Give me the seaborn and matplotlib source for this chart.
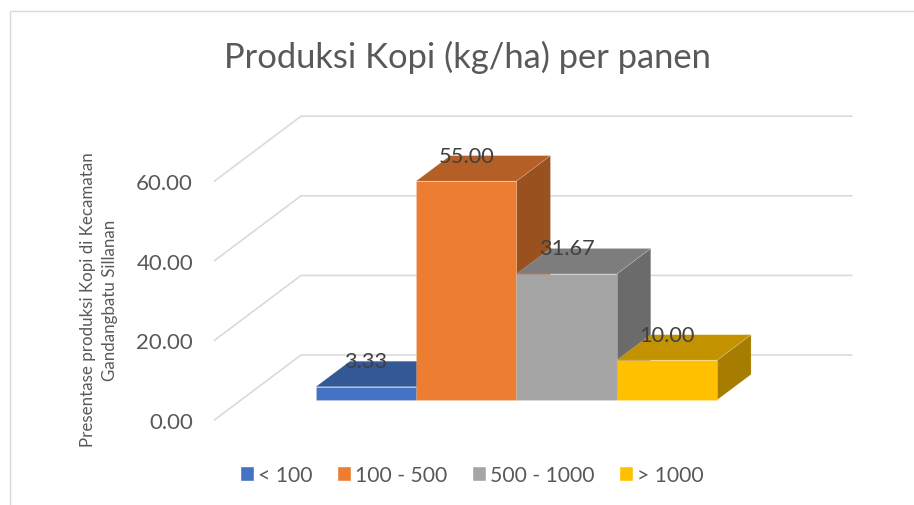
import numpy as np
import pandas as pd
import matplotlib
matplotlib.use("Agg")
import matplotlib.pyplot as plt
import seaborn as sns
from matplotlib.patches import Polygon, Rectangle

# Data
kelas = ["< 100", "100 - 500", "500 - 1000", "> 1000"]
nilai = [3.33, 55.00, 31.67, 10.00]
warna = ["#4472C4", "#ED7D31", "#A5A5A5", "#FFC000"]
y_ticks = [0, 20, 40, 60]

judul = "Produksi Kopi (kg/ha) per panen"
label_y = "Presentase produksi Kopi di Kecamatan\nGandangbatu Sillanan"

sns.set_theme(style="white")
plt.rcParams["font.family"] = ["Lato", "DejaVu Sans"]

W, H = 914, 506
fig = plt.figure(figsize=(W / 100, H / 100), dpi=100)

# axes box in pixels, front plane of the bars is a plain data plane
left, right, top, bottom = 200, 870, 100, 430
ax = fig.add_axes([left / W, 1 - bottom / H, (right - left) / W, (bottom - top) / H])

px_x = 100.3   # px per category
px_y = 3.98    # px per value unit
x0, y0 = 366, 401

# oblique depth: one bar depth in data units
dx = 34 / px_x
dy = 25.5 / px_y
d_front, d_back = -0.784, 1.765
wall_l, wall_r = -1.246, 4.247

df = pd.DataFrame({"kelas": kelas, "nilai": nilai})
sns.barplot(data=df, x="kelas", y="nilai", hue="kelas", palette=warna, width=1,
            dodge=False, legend=False, saturation=1, ax=ax, zorder=5)

ax.set_xlim((left - x0) / px_x, (right - x0) / px_x)
ax.set_ylim((y0 - bottom) / px_y, (y0 - top) / px_y)

# walls
for v in y_ticks:
    ax.plot([wall_l + dx * d_front, wall_l + dx * d_back, wall_r + dx * d_back],
            [v + dy * d_front, v + dy * d_back, v + dy * d_back],
            color="#D9D9D9", lw=1.15, zorder=1, solid_joinstyle="miter")


def gelap(c, f):
    return tuple(np.array(matplotlib.colors.to_rgb(c)) * f)


edge = (1, 1, 1, 0.18)
for i, (bar, v, c) in enumerate(zip(ax.patches, nilai, warna)):
    a, b = i - 0.5, i + 0.5
    z = 5 + i * 3
    side = [(b, 0), (b + dx, dy), (b + dx, v + dy), (b, v)]
    atas = [(a, v), (a + dx, v + dy), (b + dx, v + dy), (b, v)]
    ax.add_patch(Polygon(side, fc=gelap(c, 0.65), ec=edge, lw=0.6, zorder=z))
    ax.add_patch(Polygon(atas, fc=gelap(c, 0.76), ec=edge, lw=0.6, zorder=z + 1))
    bar.set_zorder(z + 2)
    bar.set_edgecolor(edge)
    bar.set_linewidth(0.6)
    ax.text(i, v + dy, f"{v:.2f}", ha="center", va="center", fontsize=15.7,
            color="#404040", zorder=30)

ax.set_xticks([])
ax.set_xlabel("")
ax.set_yticks([v + dy * d_front for v in y_ticks], [f"{v:.2f}" for v in y_ticks])
ax.tick_params(axis="y", length=0, pad=5, labelsize=16, labelcolor="#595959")
ax.set_ylabel("")
ax.patch.set_alpha(0)
sns.despine(ax=ax, left=True, bottom=True)

fig.text(99 / W, 1 - 300 / H, label_y, rotation=90, ha="center", va="center",
         ma="center", fontsize=12.2, color="#595959", linespacing=1.4)

fig.suptitle(judul, x=467.5 / W, y=1 - 57 / H, ha="center", va="center",
             fontsize=24.8, color="#595959")

# outer chart frame, only the left and top edges are inside the crop
fig.add_artist(Rectangle((9.5 / W, -0.1), 1.2, 0.1 + (1 - 11.5 / H), transform=fig.transFigure,
                         fc="none", ec="#D9D9D9", lw=1.0))

handles = [Rectangle((0, 0), 1, 1, fc=c) for c in warna]
fig.legend(handles, kelas, loc="center", bbox_to_anchor=(472 / W, 1 - 476 / H), ncol=4,
           frameon=False, fontsize=15.2, labelcolor="#595959", handlelength=0.66,
           handleheight=0.66, handletextpad=0.2, columnspacing=1.15)

fig.savefig("out.png", dpi=100)
